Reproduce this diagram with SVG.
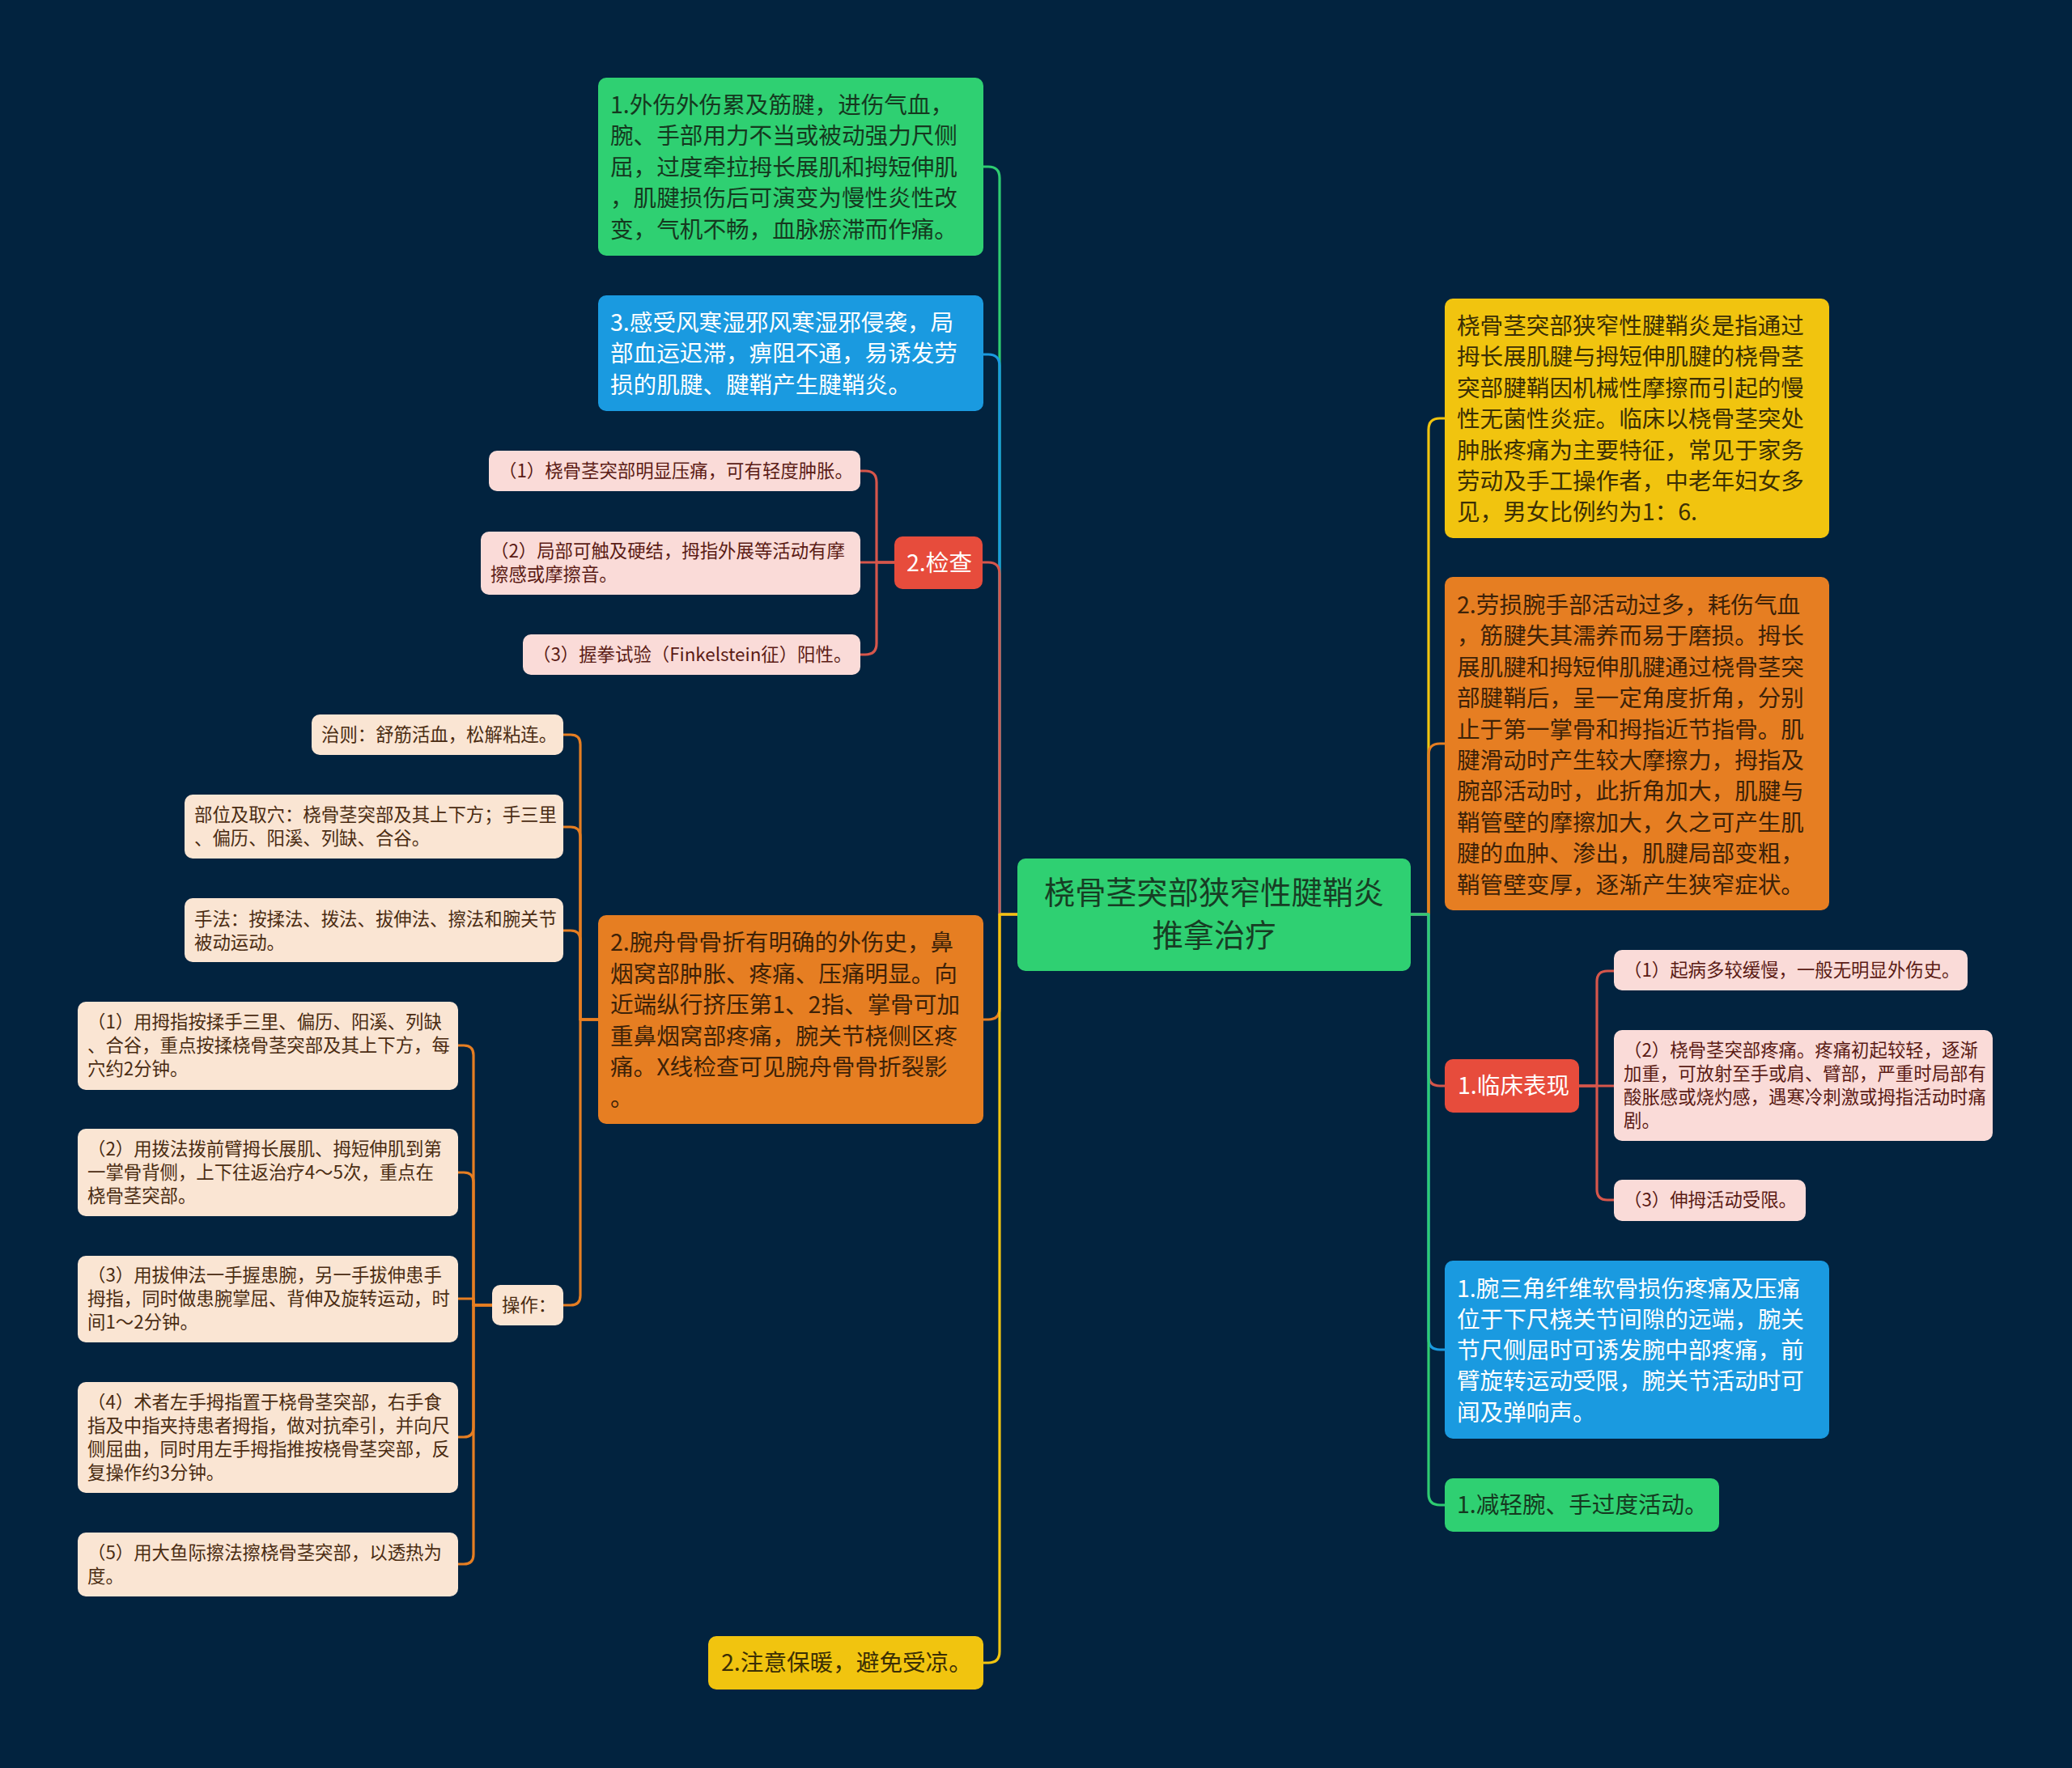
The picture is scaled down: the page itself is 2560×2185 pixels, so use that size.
<svg xmlns="http://www.w3.org/2000/svg" width="2560" height="2185" viewBox="0 0 2560 2185">
<style>
.t{font-family:"Noto Sans CJK SC","Noto Sans",sans-serif;font-size:28.6px}
.s{font-family:"Noto Sans CJK SC","Noto Sans",sans-serif;font-size:22.4px}
.ttl{font-family:"Noto Sans CJK SC","Noto Sans",sans-serif;font-size:38.2px;fill:#173d24}
.c{fill:none;stroke-width:3.2;stroke-linecap:round;stroke-linejoin:round}
.cg{stroke:#2ecc71}.cb{stroke:#1a9ae0}.cr{stroke:#d6564b}.co{stroke:#e67e22}.cy{stroke:#f1c40f}
.bg{fill:#2fd072}.bb{fill:#1a9ae0}.br{fill:#e74c3c}.bo{fill:#e67e22}.by{fill:#f1c40f}.bp{fill:#fadbd8}.be{fill:#fae5d3}
.tg{fill:#15391f}.tw{fill:#ffffff}.to{fill:#3d2208}.ty{fill:#3b2f05}.tp{fill:#5b1b15}.te{fill:#4a2c12}
</style>
<rect width="2560" height="2185" fill="#02233f"/>
<g id="connectors">
  <path class="c cg" d="M1257 1130 H1235 V220 Q1235 206 1221 206 H1215"/>
  <path class="c cb" d="M1257 1130 H1235 V452 Q1235 438 1221 438 H1215"/>
  <path class="c cr" d="M1257 1130 H1235 V709 Q1235 695 1221 695 H1214"/>
  <path class="c co" d="M1257 1130 H1235 V1246 Q1235 1260 1221 1260 H1215"/>
  <path class="c cy" d="M1257 1130 H1235 V2041 Q1235 2055 1221 2055 H1215"/>
  <path class="c cy" d="M1743 1130 H1765 V531 Q1765 517 1779 517 H1785"/>
  <path class="c co" d="M1743 1130 H1765 V933 Q1765 919 1779 919 H1785"/>
  <path class="c cr" d="M1743 1130 H1765 V1328 Q1765 1342 1779 1342 H1785"/>
  <path class="c cb" d="M1743 1130 H1765 V1654 Q1765 1668 1779 1668 H1785"/>
  <path class="c cg" d="M1743 1130 H1765 V1846 Q1765 1860 1779 1860 H1785"/>
  <path class="c cr" d="M1105 695 H1083 V596 Q1083 582 1069 582 H1063"/>
  <path class="c cr" d="M1105 695 H1063"/>
  <path class="c cr" d="M1105 695 H1083 V795 Q1083 809 1069 809 H1063"/>
  <path class="c co" d="M739 1260 H717 V920 Q717 908 705 908 H696"/>
  <path class="c co" d="M739 1260 H717 V1034 Q717 1022 705 1022 H696"/>
  <path class="c co" d="M739 1260 H717 V1162 Q717 1150 705 1150 H696"/>
  <path class="c co" d="M739 1260 H717 V1601 Q717 1613 705 1613 H696"/>
  <path class="c co" d="M608 1613 H585 V1304 Q585 1292 573 1292 H566"/>
  <path class="c co" d="M608 1613 H585 V1461 Q585 1449 573 1449 H566"/>
  <path class="c co" d="M608 1613 H585 V1605 H566"/>
  <path class="c co" d="M608 1613 H585 V1764 Q585 1776 573 1776 H566"/>
  <path class="c co" d="M608 1613 H585 V1921 Q585 1933 573 1933 H566"/>
  <path class="c cr" d="M1950 1342 H1973 V1213 Q1973 1200 1986 1200 H1994"/>
  <path class="c cr" d="M1950 1342 H1994"/>
  <path class="c cr" d="M1950 1342 H1973 V1470 Q1973 1483 1986 1483 H1994"/>
</g>
<g id="root">
  <rect x="1257" y="1061" width="486" height="139" rx="10" class="bg"/>
  <text class="ttl" text-anchor="middle" x="1500" y="1117">桡骨茎突部狭窄性腱鞘炎</text>
  <text class="ttl" text-anchor="middle" x="1500" y="1170">推拿治疗</text>
</g>
<g id="n-waishang">
  <rect x="739" y="96" width="476" height="220" rx="10" class="bg"/>
  <text class="t tg" x="754" y="140">1.外伤外伤累及筋腱，进伤气血，</text>
  <text class="t tg" x="754" y="178">腕、手部用力不当或被动强力尺侧</text>
  <text class="t tg" x="754" y="217">屈，过度牵拉拇长展肌和拇短伸肌</text>
  <text class="t tg" x="754" y="255">，肌腱损伤后可演变为慢性炎性改</text>
  <text class="t tg" x="754" y="294">变，气机不畅，血脉瘀滞而作痛。</text>
</g>
<g id="n-ganshou">
  <rect x="739" y="365" width="476" height="143" rx="10" class="bb"/>
  <text class="t tw" x="754" y="409">3.感受风寒湿邪风寒湿邪侵袭，局</text>
  <text class="t tw" x="754" y="447">部血运迟滞，痹阻不通，易诱发劳</text>
  <text class="t tw" x="754" y="486">损的肌腱、腱鞘产生腱鞘炎。</text>
</g>
<g id="n-jiancha">
  <rect x="1105" y="663" width="109" height="65" rx="10" class="br"/>
  <text class="t tw" x="1120" y="706">2.检查</text>
</g>
<g id="n-jc1">
  <rect x="604" y="557" width="459" height="50" rx="10" class="bp"/>
  <text class="s tp" x="616" y="590">（1）桡骨茎突部明显压痛，可有轻度肿胀。</text>
</g>
<g id="n-jc2">
  <rect x="594" y="657" width="469" height="78" rx="10" class="bp"/>
  <text class="s tp" x="606" y="689">（2）局部可触及硬结，拇指外展等活动有摩</text>
  <text class="s tp" x="606" y="718">擦感或摩擦音。</text>
</g>
<g id="n-jc3">
  <rect x="646" y="784" width="417" height="50" rx="10" class="bp"/>
  <text class="s tp" x="658" y="817">（3）握拳试验（Finkelstein征）阳性。</text>
</g>
<g id="n-wanzhou">
  <rect x="739" y="1131" width="476" height="258" rx="10" class="bo"/>
  <text class="t to" x="754" y="1175">2.腕舟骨骨折有明确的外伤史，鼻</text>
  <text class="t to" x="754" y="1214">烟窝部肿胀、疼痛、压痛明显。向</text>
  <text class="t to" x="754" y="1252">近端纵行挤压第1、2指、掌骨可加</text>
  <text class="t to" x="754" y="1291">重鼻烟窝部疼痛，腕关节桡侧区疼</text>
  <text class="t to" x="754" y="1329">痛。X线检查可见腕舟骨骨折裂影</text>
  <text class="t to" x="754" y="1367">。</text>
</g>
<g id="n-zhize">
  <rect x="385" y="883" width="311" height="50" rx="10" class="be"/>
  <text class="s te" x="397" y="916">治则：舒筋活血，松解粘连。</text>
</g>
<g id="n-buwei">
  <rect x="228" y="982" width="468" height="79" rx="10" class="be"/>
  <text class="s te" x="240" y="1015">部位及取穴：桡骨茎突部及其上下方；手三里</text>
  <text class="s te" x="240" y="1044">、偏历、阳溪、列缺、合谷。</text>
</g>
<g id="n-shoufa">
  <rect x="228" y="1110" width="468" height="79" rx="10" class="be"/>
  <text class="s te" x="240" y="1144">手法：按揉法、拨法、拔伸法、擦法和腕关节</text>
  <text class="s te" x="240" y="1173">被动运动。</text>
</g>
<g id="n-caozuo">
  <rect x="608" y="1588" width="88" height="50" rx="10" class="be"/>
  <text class="s te" x="620" y="1621">操作：</text>
</g>
<g id="n-cz1">
  <rect x="96" y="1238" width="470" height="109" rx="10" class="be"/>
  <text class="s te" x="108" y="1271">（1）用拇指按揉手三里、偏历、阳溪、列缺</text>
  <text class="s te" x="108" y="1300">、合谷，重点按揉桡骨茎突部及其上下方，每</text>
  <text class="s te" x="108" y="1329">穴约2分钟。</text>
</g>
<g id="n-cz2">
  <rect x="96" y="1395" width="470" height="108" rx="10" class="be"/>
  <text class="s te" x="108" y="1428">（2）用拨法拨前臂拇长展肌、拇短伸肌到第</text>
  <text class="s te" x="108" y="1457">一掌骨背侧，上下往返治疗4～5次，重点在</text>
  <text class="s te" x="108" y="1486">桡骨茎突部。</text>
</g>
<g id="n-cz3">
  <rect x="96" y="1552" width="470" height="107" rx="10" class="be"/>
  <text class="s te" x="108" y="1584">（3）用拔伸法一手握患腕，另一手拔伸患手</text>
  <text class="s te" x="108" y="1613">拇指，同时做患腕掌屈、背伸及旋转运动，时</text>
  <text class="s te" x="108" y="1642">间1～2分钟。</text>
</g>
<g id="n-cz4">
  <rect x="96" y="1708" width="470" height="137" rx="10" class="be"/>
  <text class="s te" x="108" y="1741">（4）术者左手拇指置于桡骨茎突部，右手食</text>
  <text class="s te" x="108" y="1770">指及中指夹持患者拇指，做对抗牵引，并向尺</text>
  <text class="s te" x="108" y="1799">侧屈曲，同时用左手拇指推按桡骨茎突部，反</text>
  <text class="s te" x="108" y="1828">复操作约3分钟。</text>
</g>
<g id="n-cz5">
  <rect x="96" y="1894" width="470" height="79" rx="10" class="be"/>
  <text class="s te" x="108" y="1927">（5）用大鱼际擦法擦桡骨茎突部，以透热为</text>
  <text class="s te" x="108" y="1956">度。</text>
</g>
<g id="n-zhuyi">
  <rect x="875" y="2022" width="340" height="66" rx="10" class="by"/>
  <text class="t ty" x="891" y="2065">2.注意保暖，避免受凉。</text>
</g>
<g id="n-dingyi">
  <rect x="1785" y="369" width="475" height="296" rx="10" class="by"/>
  <text class="t ty" x="1800" y="413">桡骨茎突部狭窄性腱鞘炎是指通过</text>
  <text class="t ty" x="1800" y="451">拇长展肌腱与拇短伸肌腱的桡骨茎</text>
  <text class="t ty" x="1800" y="490">突部腱鞘因机械性摩擦而引起的慢</text>
  <text class="t ty" x="1800" y="528">性无菌性炎症。临床以桡骨茎突处</text>
  <text class="t ty" x="1800" y="567">肿胀疼痛为主要特征，常见于家务</text>
  <text class="t ty" x="1800" y="605">劳动及手工操作者，中老年妇女多</text>
  <text class="t ty" x="1800" y="643">见，男女比例约为1：6.</text>
</g>
<g id="n-laosun">
  <rect x="1785" y="713" width="475" height="412" rx="10" class="bo"/>
  <text class="t to" x="1800" y="758">2.劳损腕手部活动过多，耗伤气血</text>
  <text class="t to" x="1800" y="796">，筋腱失其濡养而易于磨损。拇长</text>
  <text class="t to" x="1800" y="835">展肌腱和拇短伸肌腱通过桡骨茎突</text>
  <text class="t to" x="1800" y="873">部腱鞘后，呈一定角度折角，分别</text>
  <text class="t to" x="1800" y="912">止于第一掌骨和拇指近节指骨。肌</text>
  <text class="t to" x="1800" y="950">腱滑动时产生较大摩擦力，拇指及</text>
  <text class="t to" x="1800" y="988">腕部活动时，此折角加大，肌腱与</text>
  <text class="t to" x="1800" y="1027">鞘管壁的摩擦加大，久之可产生肌</text>
  <text class="t to" x="1800" y="1065">腱的血肿、渗出，肌腱局部变粗，</text>
  <text class="t to" x="1800" y="1104">鞘管壁变厚，逐渐产生狭窄症状。</text>
</g>
<g id="n-linchuang">
  <rect x="1785" y="1309" width="166" height="66" rx="10" class="br"/>
  <text class="t tw" x="1801" y="1352">1.临床表现</text>
</g>
<g id="n-lc1">
  <rect x="1994" y="1174" width="437" height="50" rx="10" class="bp"/>
  <text class="s tp" x="2006" y="1207">（1）起病多较缓慢，一般无明显外伤史。</text>
</g>
<g id="n-lc2">
  <rect x="1994" y="1273" width="468" height="137" rx="10" class="bp"/>
  <text class="s tp" x="2006" y="1306">（2）桡骨茎突部疼痛。疼痛初起较轻，逐渐</text>
  <text class="s tp" x="2006" y="1335">加重，可放射至手或肩、臂部，严重时局部有</text>
  <text class="s tp" x="2006" y="1364">酸胀感或烧灼感，遇寒冷刺激或拇指活动时痛</text>
  <text class="s tp" x="2006" y="1393">剧。</text>
</g>
<g id="n-lc3">
  <rect x="1994" y="1458" width="237" height="51" rx="10" class="bp"/>
  <text class="s tp" x="2006" y="1491">（3）伸拇活动受限。</text>
</g>
<g id="n-sanjiao">
  <rect x="1785" y="1558" width="475" height="220" rx="10" class="bb"/>
  <text class="t tw" x="1800" y="1603">1.腕三角纤维软骨损伤疼痛及压痛</text>
  <text class="t tw" x="1800" y="1641">位于下尺桡关节间隙的远端，腕关</text>
  <text class="t tw" x="1800" y="1679">节尺侧屈时可诱发腕中部疼痛，前</text>
  <text class="t tw" x="1800" y="1717">臂旋转运动受限，腕关节活动时可</text>
  <text class="t tw" x="1800" y="1756">闻及弹响声。</text>
</g>
<g id="n-jianqing">
  <rect x="1785" y="1827" width="339" height="66" rx="10" class="bg"/>
  <text class="t tg" x="1800" y="1870">1.减轻腕、手过度活动。</text>
</g>
</svg>
